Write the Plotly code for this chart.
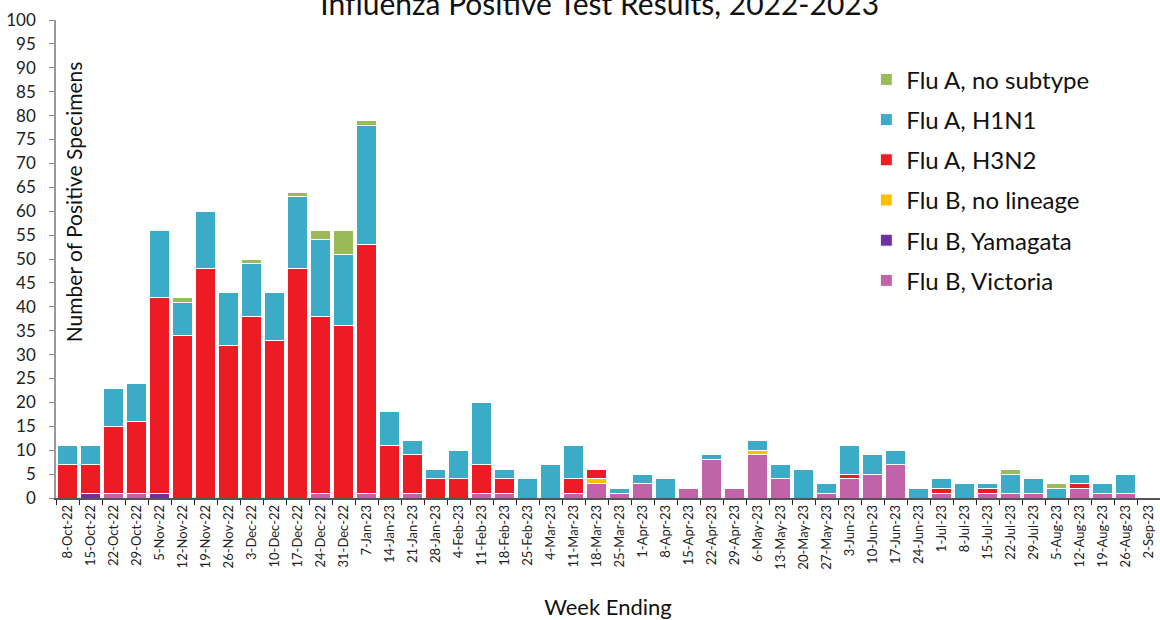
import plotly.graph_objects as go

weeks = ["8-Oct-22", "15-Oct-22", "22-Oct-22", "29-Oct-22", "5-Nov-22", "12-Nov-22", "19-Nov-22", "26-Nov-22",
         "3-Dec-22", "10-Dec-22", "17-Dec-22", "24-Dec-22", "31-Dec-22", "7-Jan-23", "14-Jan-23", "21-Jan-23",
         "28-Jan-23", "4-Feb-23", "11-Feb-23", "18-Feb-23", "25-Feb-23", "4-Mar-23", "11-Mar-23", "18-Mar-23",
         "25-Mar-23", "1-Apr-23", "8-Apr-23", "15-Apr-23", "22-Apr-23", "29-Apr-23", "6-May-23", "13-May-23",
         "20-May-23", "27-May-23", "3-Jun-23", "10-Jun-23", "17-Jun-23", "24-Jun-23", "1-Jul-23", "8-Jul-23",
         "15-Jul-23", "22-Jul-23", "29-Jul-23", "5-Aug-23", "12-Aug-23", "19-Aug-23", "26-Aug-23", "2-Sep-23"]

flu_b_victoria = [0, 0, 1, 1, 0, 0, 0, 0, 0, 0, 0, 1, 0, 1, 0, 1,
                  0, 0, 1, 1, 0, 0, 1, 3, 1, 3, 0, 2, 8, 2, 9, 4,
                  0, 1, 4, 5, 7, 0, 1, 0, 1, 1, 1, 0, 2, 1, 1, 0]
flu_b_yamagata = [0, 1, 0, 0, 1, 0, 0, 0, 0, 0, 0, 0, 0, 0, 0, 0,
                  0, 0, 0, 0, 0, 0, 0, 0, 0, 0, 0, 0, 0, 0, 0, 0,
                  0, 0, 0, 0, 0, 0, 0, 0, 0, 0, 0, 0, 0, 0, 0, 0]
flu_b_no_lineage = [0, 0, 0, 0, 0, 0, 0, 0, 0, 0, 0, 0, 0, 0, 0, 0,
                    0, 0, 0, 0, 0, 0, 0, 1, 0, 0, 0, 0, 0, 0, 1, 0,
                    0, 0, 0, 0, 0, 0, 0, 0, 0, 0, 0, 0, 0, 0, 0, 0]
flu_a_h3n2 = [7, 6, 14, 15, 41, 34, 48, 32, 38, 33, 48, 37, 36, 52, 11, 8,
              4, 4, 6, 3, 0, 0, 3, 2, 0, 0, 0, 0, 0, 0, 0, 0,
              0, 0, 1, 0, 0, 0, 1, 0, 1, 0, 0, 0, 1, 0, 0, 0]
flu_a_h1n1 = [4, 4, 8, 8, 14, 7, 12, 11, 11, 10, 15, 16, 15, 25, 7, 3,
              2, 6, 13, 2, 4, 7, 7, 0, 1, 2, 4, 0, 1, 0, 2, 3,
              6, 2, 6, 4, 3, 2, 2, 3, 1, 4, 3, 2, 2, 2, 4, 0]
flu_a_no_subtype = [0, 0, 0, 0, 0, 1, 0, 0, 1, 0, 1, 2, 5, 1, 0, 0,
                    0, 0, 0, 0, 0, 0, 0, 0, 0, 0, 0, 0, 0, 0, 0, 0,
                    0, 0, 0, 0, 0, 0, 0, 0, 0, 1, 0, 1, 0, 0, 0, 0]

# stacking order bottom -> top
series = [
    ("Flu B, Victoria", flu_b_victoria, "#C063A9"),
    ("Flu B, Yamagata", flu_b_yamagata, "#7030A0"),
    ("Flu B, no lineage", flu_b_no_lineage, "#FFC000"),
    ("Flu A, H3N2", flu_a_h3n2, "#ED1C24"),
    ("Flu A, H1N1", flu_a_h1n1, "#3BABC7"),
    ("Flu A, no subtype", flu_a_no_subtype, "#9BBB59"),
]

FONT = "Lato"
fig = go.Figure()
n = len(series)
for i, (name, vals, color) in enumerate(series):
    fig.add_trace(go.Bar(
        x=weeks, y=vals, name=name, legendgroup=name, legendrank=(n - i) * 100,
        marker=dict(color=color, line=dict(color="white", width=1)),
    ))

fig.update_layout(
    width=1160, height=620,
    barmode="stack", bargap=0.12,
    plot_bgcolor="white", paper_bgcolor="white",
    margin=dict(l=56, r=0, t=20, b=122, autoexpand=False),
    font=dict(family=FONT, color="#222222"),
    title=dict(text="Influenza Positive Test Results, 2022-2023", x=0.517, xanchor="center",
               y=0.992, yanchor="middle", font=dict(size=30, family=FONT, color="#111111")),
    legend=dict(x=0.734, y=0.922, xanchor="left", yanchor="top", traceorder="grouped",
                tracegroupgap=6, font=dict(size=24, family=FONT, color="#111111"),
                bgcolor="rgba(0,0,0,0)"),
    showlegend=True,
)
fig.update_xaxes(
    type="category", tickangle=-90, tickson="boundaries", ticks="outside", ticklen=5,
    tickcolor="#222222", showline=True, linecolor="#555555", linewidth=1.5,
    tickfont=dict(size=13, family=FONT, color="#222222"),
    title=dict(text="Week Ending", font=dict(size=22, family=FONT, color="#111111"), standoff=36),
    showgrid=False, automargin=False,
)
fig.update_yaxes(
    range=[0, 100], dtick=5, ticks="outside", ticklen=5, tickcolor="#888888",
    showline=True, linecolor="#999999", linewidth=1.5, showgrid=False,
    tickfont=dict(size=17, family=FONT, color="#222222"), zeroline=False,
    ticklabelstandoff=10, automargin=False,
)
fig.add_annotation(
    text="Number of Positive Specimens", textangle=-90, xref="paper", yref="paper",
    x=0.0155, y=0.619, xanchor="center", yanchor="middle", showarrow=False,
    font=dict(size=21, family=FONT, color="#111111"),
)

fig.write_html("out.html", config={"displayModeBar": False},
               post_script="document.body.style.margin='0';")
